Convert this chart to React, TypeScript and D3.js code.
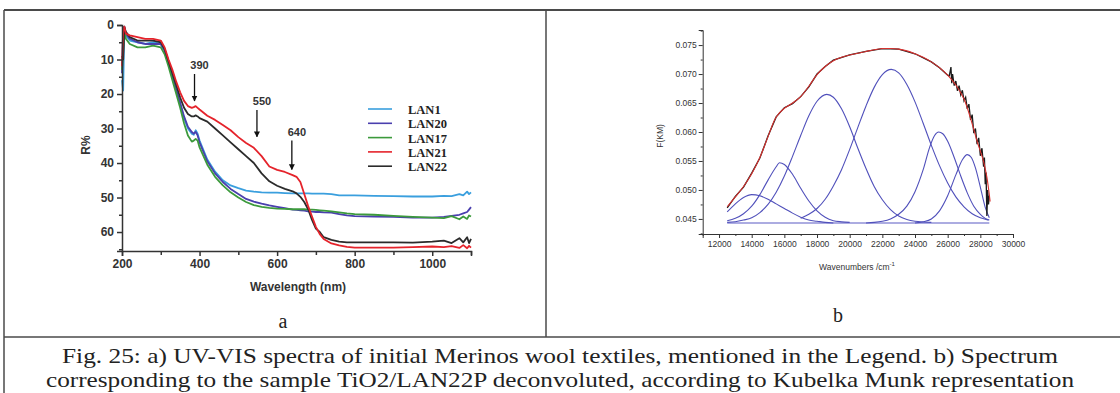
import React, { useEffect, useRef } from "react";
import * as d3 from "d3";

// ---- panel a: UV-VIS reflectance (R%) ----
const wavelength = [200, 203, 206, 210, 220, 240, 260, 280, 300, 310, 320, 330, 340, 350, 360, 370, 380, 385, 390, 395, 400, 420, 440, 460, 480, 500, 520, 540, 560, 580, 600, 620, 640, 650, 660, 670, 680, 690, 700, 710, 720, 740, 760, 780, 800, 850, 900, 950, 1000, 1030, 1050, 1070, 1080, 1090, 1095, 1100];

const lan1 = [16, 19, 1, 3, 4.5, 5, 5.5, 5, 5.5, 7.5, 11, 15, 19, 23, 27, 30, 31.5, 31.8, 30.5, 31.5, 33.5, 39, 42.5, 45, 46.5, 47.3, 48, 48.3, 48.5, 48.6, 48.6, 48.7, 48.8, 48.8, 48.8, 48.8, 48.8, 48.9, 48.9, 48.9, 48.9, 49, 49.4, 49.4, 49.4, 49.5, 49.6, 49.7, 49.7, 49.5, 49.6, 49, 49.4, 48.3, 49, 48.5];
const lan20 = [14, 1, 0.5, 2.5, 4, 5, 5.5, 5.5, 5.5, 7.5, 11, 15, 19, 22.5, 26.5, 29.5, 31, 31.5, 31, 32, 34, 39.5, 43, 45.5, 47.5, 49, 50.4, 51.2, 51.8, 52.3, 52.7, 53.1, 53.5, 53.6, 53.7, 53.8, 54, 54.1, 54.2, 54.2, 54.3, 54.4, 54.8, 55.2, 55.4, 55.5, 55.6, 55.8, 55.8, 55.6, 55.3, 55, 54.6, 54.2, 53.5, 52.8];
const lan17 = [13, 8, 1.5, 4, 5.5, 6.5, 6.5, 6, 6.5, 8.5, 12, 16, 20, 24, 28.5, 32, 33.8, 33.5, 33, 33.5, 35.5, 40.5, 44, 46.5, 48.5, 50, 51.3, 52.2, 52.7, 53, 53.2, 53.3, 53.4, 53.4, 53.4, 53.4, 53.5, 53.5, 53.6, 53.7, 53.8, 54, 54.3, 54.6, 54.8, 55, 55.3, 55.6, 55.8, 56, 55.4, 56.3, 55.5, 56.2, 55.2, 55.5];
const lan21 = [12, 2, 0.5, 2.5, 3, 3.5, 4, 4, 4.5, 6.5, 10, 13, 16.5, 19.5, 22, 23.5, 24, 23.8, 23.5, 24, 24.5, 26.3, 27.5, 29, 30.5, 32.5, 34.2, 35.6, 38, 41, 42, 42.6, 43.5, 44, 45.5, 49, 52.5, 55.5, 58.5, 60.6, 62, 63.3, 63.9, 64.3, 64.5, 64.5, 64.5, 64.4, 64.2, 64.4, 64.1, 64.6, 63.8, 64.7, 64, 64.5];
const lan22 = [9, 10, 0.5, 2, 3.5, 4.5, 4.5, 4.5, 5, 7, 10.5, 14, 17.5, 21, 24, 25.8, 26.5, 26.5, 26.2, 26.5, 27, 28, 30, 32, 34, 36, 38, 40, 43, 45.3, 46.6, 47.5, 48.2, 48.8, 49.8, 51.3, 53.4, 56.5, 59, 60, 61.5, 62.3, 62.8, 63, 63, 63, 63, 63.1, 62.8, 62.5, 63.2, 61.8, 63, 61.5, 63.2, 62];

const seriesNames = ["LAN1", "LAN20", "LAN17", "LAN21", "LAN22"];
const seriesValues = [lan1, lan20, lan17, lan21, lan22];
const seriesColors = ["#3a9fde", "#4a3fae", "#3c9a3c", "#e5232b", "#2b2b2b"];
const drawOrder = [0, 1, 2, 4, 3];

const rTicks = [0, 10, 20, 30, 40, 50, 60];
const wlTicks = [200, 400, 600, 800, 1000];

const arrowLabels = ["390", "550", "640"];
const arrowWl = [387, 548, 638];
const arrowFrom = [14.2, 24.6, 33.5];
const arrowTo = [22, 32.4, 41.9];

// ---- panel b: Kubelka-Munk deconvolution ----
const fitWn = [12500, 13000, 13500, 14000, 14500, 15000, 15500, 16000, 16500, 17000, 17500, 18000, 18500, 19000, 19500, 20000, 20500, 21000, 21500, 22000, 22500, 23000, 23500, 24000, 24500, 25000, 25500, 26000, 26500, 27000, 27500, 27800, 28000, 28200, 28400, 28600];
const fitVal = [0.0471, 0.0488, 0.0506, 0.0528, 0.0556, 0.0592, 0.0626, 0.0641, 0.065, 0.0661, 0.0679, 0.0699, 0.0713, 0.0723, 0.0729, 0.0733, 0.0736, 0.0739, 0.0742, 0.0744, 0.0744, 0.0743, 0.074, 0.0735, 0.0729, 0.0721, 0.0711, 0.0698, 0.0681, 0.0657, 0.0614, 0.0584, 0.0567, 0.0549, 0.0522, 0.048];

const measWn = [12500, 13000, 13500, 14000, 14500, 15000, 15500, 16000, 16500, 17000, 17500, 18000, 18500, 19000, 20000, 21000, 22000, 23000, 24000, 25000, 25500, 26000, 26100, 26200, 26250, 26300, 26400, 26500, 26600, 26700, 26800, 26900, 27000, 27100, 27200, 27300, 27400, 27500, 27600, 27700, 27800, 27900, 28000, 28100, 28200, 28250, 28300, 28350, 28400, 28450, 28500, 28550];
const measVal = [0.0469, 0.0489, 0.0505, 0.0529, 0.0555, 0.0593, 0.0626, 0.0642, 0.0649, 0.0661, 0.0678, 0.07, 0.0713, 0.0724, 0.0733, 0.0739, 0.0744, 0.0743, 0.0735, 0.0721, 0.0711, 0.0698, 0.0697, 0.0712, 0.0684, 0.07, 0.068, 0.0688, 0.0671, 0.068, 0.0664, 0.0672, 0.0654, 0.066, 0.064, 0.0648, 0.0621, 0.063, 0.0598, 0.0606, 0.0579, 0.059, 0.0559, 0.0572, 0.054, 0.0556, 0.051, 0.053, 0.0455, 0.05, 0.0475, 0.049];

const peak1 = [[12500, 0.0462], [13000, 0.0476], [13500, 0.0487], [14000, 0.0492], [14500, 0.049], [15000, 0.0484], [15500, 0.0476], [16000, 0.0468], [16500, 0.046], [17000, 0.0453], [17500, 0.0448], [18000, 0.0446], [18500, 0.0444], [19000, 0.0443]];
const peak2 = [[12500, 0.0447], [13000, 0.0451], [13500, 0.0459], [14000, 0.0472], [14500, 0.0492], [15000, 0.0517], [15500, 0.054], [15700, 0.0547], [16000, 0.0544], [16500, 0.0527], [17000, 0.0503], [17500, 0.0481], [18000, 0.0464], [18500, 0.0453], [19000, 0.0447], [19500, 0.0445], [20000, 0.0444]];
const peak3 = [[12500, 0.0444], [13000, 0.0445], [13500, 0.0448], [14000, 0.0452], [14500, 0.0461], [15000, 0.0475], [15500, 0.0496], [16000, 0.0524], [16500, 0.0558], [17000, 0.0594], [17500, 0.0628], [18000, 0.0653], [18600, 0.0665], [19000, 0.066], [19500, 0.064], [20000, 0.0609], [20500, 0.0572], [21000, 0.0537], [21500, 0.0506], [22000, 0.0483], [22500, 0.0466], [23000, 0.0455], [23500, 0.0449], [24000, 0.0446], [25000, 0.0444]];
const peak4 = [[17000, 0.0451], [17500, 0.0458], [18000, 0.0468], [18500, 0.0484], [19000, 0.0507], [19500, 0.0535], [20000, 0.057], [20500, 0.0608], [21000, 0.0645], [21500, 0.0677], [22000, 0.0699], [22550, 0.0708], [23000, 0.0702], [23500, 0.0682], [24000, 0.0652], [24500, 0.0615], [25000, 0.0577], [25500, 0.0542], [26000, 0.0512], [26500, 0.0488], [27000, 0.0471], [27500, 0.0459], [28000, 0.0452], [28500, 0.0448]];
const peak5 = [[21000, 0.0443], [21500, 0.0444], [22000, 0.0446], [22500, 0.045], [23000, 0.0458], [23500, 0.0472], [24000, 0.0497], [24500, 0.0535], [24900, 0.0574], [25200, 0.0594], [25450, 0.06], [25700, 0.0597], [26000, 0.0584], [26400, 0.0556], [26800, 0.0524], [27200, 0.0495], [27600, 0.0472], [28000, 0.0458], [28300, 0.0451], [28550, 0.0448]];
const peak6 = [[24000, 0.0443], [24500, 0.0445], [25000, 0.045], [25500, 0.0464], [26000, 0.049], [26500, 0.0526], [26900, 0.0552], [27200, 0.0561], [27450, 0.0556], [27700, 0.0538], [28000, 0.0505], [28300, 0.047], [28550, 0.0452]];
const peaks = [peak1, peak2, peak3, peak4, peak5, peak6];
const baseline = [[12500, 0.0443], [28550, 0.0443]];

const fkmTicks = [0.045, 0.05, 0.055, 0.06, 0.065, 0.07, 0.075];
const wnTicks = [12000, 14000, 16000, 18000, 20000, 22000, 24000, 26000, 28000, 30000];

const caption1 = "Fig. 25: a) UV-VIS spectra of initial Merinos wool textiles, mentioned in the Legend. b) Spectrum";
const caption2 = "corresponding to the sample TiO2/LAN22P deconvoluted, according to Kubelka Munk representation";

const W = 1120;
const H = 393;
const SANS = "'Liberation Sans', Arial, sans-serif";
const SERIF = "'Liberation Serif', 'Times New Roman', serif";

export default function App() {
  const ref = useRef<SVGSVGElement>(null);

  useEffect(() => {
    const svg = d3.select(ref.current);
    svg.selectAll("*").remove();

    svg.append("rect").attr("width", W).attr("height", H).attr("fill", "#fff");

    // table frame
    const frame = svg.append("g").attr("stroke", "#4a4a4a").attr("fill", "none");
    frame.append("line").attr("x1", 4).attr("x2", W).attr("y1", 10).attr("y2", 10).attr("stroke-width", 2);
    frame.append("line").attr("x1", 4).attr("x2", 4).attr("y1", 10).attr("y2", H).attr("stroke-width", 1.5);
    frame.append("line").attr("x1", 546).attr("x2", 546).attr("y1", 10).attr("y2", 337).attr("stroke-width", 1.5);
    frame.append("line").attr("x1", 4).attr("x2", W).attr("y1", 337).attr("y2", 337).attr("stroke-width", 1.5);

    // ---------- panel a ----------
    const x = d3.scaleLinear().domain([200, 1100]).range([122, 471]);
    const y = d3.scaleLinear().domain([0, 65.5]).range([25, 251]);
    const ga = svg.append("g").attr("font-family", SANS);

    const line = d3.line<number>()
      .x((_, i) => x(wavelength[i]))
      .y(d => y(d));

    drawOrder.forEach(k => {
      ga.append("path")
        .datum(seriesValues[k])
        .attr("d", line)
        .attr("fill", "none")
        .attr("stroke", seriesColors[k])
        .attr("stroke-width", 1.8)
        .attr("stroke-linejoin", "round");
    });

    const yAxisA = ga.append("g")
      .attr("transform", "translate(122,0)")
      .call(d3.axisLeft(y).tickValues(rTicks).tickSize(5).tickPadding(3).tickFormat(d3.format("d")));
    ga.append("g")
      .attr("transform", "translate(122,0)")
      .call(d3.axisLeft(y).tickValues(d3.range(5, 66, 10)).tickSize(3).tickFormat(() => ""))
      .select(".domain").remove();
    const xAxisA = ga.append("g")
      .attr("transform", "translate(0,251)")
      .call(d3.axisBottom(x).tickValues(wlTicks).tickSize(5).tickPadding(3).tickFormat(d3.format("d")));
    ga.append("g")
      .attr("transform", "translate(0,251)")
      .call(d3.axisBottom(x).tickValues(d3.range(300, 1101, 200)).tickSize(4).tickFormat(() => ""))
      .select(".domain").remove();
    [yAxisA, xAxisA].forEach(a => {
      a.attr("font-family", SANS);
      a.selectAll("text").attr("font-size", 12).attr("font-weight", "bold").attr("fill", "#333");
    });
    ga.selectAll("g path.domain, g line").attr("stroke", "#333").attr("stroke-width", 1.5);

    ga.append("text")
      .attr("x", 298).attr("y", 291)
      .attr("text-anchor", "middle")
      .attr("font-size", 12).attr("font-weight", "bold").attr("fill", "#333")
      .text("Wavelength (nm)");
    ga.append("text")
      .attr("transform", "translate(90,145) rotate(-90)")
      .attr("text-anchor", "middle")
      .attr("font-size", 12).attr("font-weight", "bold").attr("fill", "#333")
      .text("R%");

    // arrows
    const defs = svg.append("defs");
    defs.append("marker")
      .attr("id", "arrowhead")
      .attr("viewBox", "0 0 10 10")
      .attr("refX", 9).attr("refY", 5)
      .attr("markerWidth", 6).attr("markerHeight", 7)
      .attr("markerUnits", "userSpaceOnUse")
      .attr("orient", "auto")
      .append("path").attr("d", "M0,0 L10,5 L0,10 Z").attr("fill", "#111");

    arrowLabels.forEach((lab, i) => {
      const ax = x(arrowWl[i]);
      ga.append("line")
        .attr("x1", ax).attr("x2", ax)
        .attr("y1", y(arrowFrom[i])).attr("y2", y(arrowTo[i]))
        .attr("stroke", "#111").attr("stroke-width", 1.3)
        .attr("marker-end", "url(#arrowhead)");
      ga.append("text")
        .attr("x", ax + 5).attr("y", y(arrowFrom[i]) - 5)
        .attr("text-anchor", "middle")
        .attr("font-size", 11).attr("font-weight", "bold").attr("fill", "#333")
        .text(lab);
    });

    // legend
    const lg = svg.append("g").attr("transform", "translate(368,111)");
    seriesNames.forEach((name, i) => {
      const row = lg.append("g").attr("transform", `translate(0,${i * 14.3})`);
      row.append("line")
        .attr("x1", 0).attr("x2", 24).attr("y1", -2).attr("y2", -2)
        .attr("stroke", seriesColors[i]).attr("stroke-width", 1.6);
      row.append("text")
        .attr("x", 40).attr("y", 3)
        .attr("font-size", 12.5).attr("font-weight", "bold")
        .attr("fill", "#222")
        .attr("font-family", SERIF)
        .text(name);
    });

    // ---------- panel b ----------
    const xb = d3.scaleLinear().domain([11000, 30000]).range([702.7, 1013]);
    const yb = d3.scaleLinear().domain([0.0424, 0.0776]).range([234, 30]);
    const gb = svg.append("g").attr("font-family", SANS);

    const pLine = d3.line<number[]>()
      .x(d => xb(d[0]))
      .y(d => yb(d[1]))
      .curve(d3.curveMonotoneX);

    gb.append("path").datum(baseline).attr("d", pLine)
      .attr("fill", "none").attr("stroke", "#5a5ac4").attr("stroke-width", 1.2);
    peaks.forEach(p => {
      gb.append("path").datum(p).attr("d", pLine)
        .attr("fill", "none").attr("stroke", "#5050bb").attr("stroke-width", 1.1);
    });

    const measLine = d3.line<number>()
      .x((_, i) => xb(measWn[i]))
      .y(d => yb(d));
    gb.append("path").datum(measVal).attr("d", measLine)
      .attr("fill", "none").attr("stroke", "#1a1a1a").attr("stroke-width", 1.3);

    const fitLine = d3.line<number>()
      .x((_, i) => xb(fitWn[i]))
      .y(d => yb(d))
      .curve(d3.curveCatmullRom);
    gb.append("path").datum(fitVal).attr("d", fitLine)
      .attr("fill", "none").attr("stroke", "#d8322f").attr("stroke-width", 1.1);

    const yAxisB = gb.append("g")
      .attr("transform", "translate(702.7,0)")
      .call(d3.axisLeft(yb).tickValues(fkmTicks).tickSize(4).tickPadding(2).tickFormat(d3.format(".3f")));
    gb.append("g")
      .attr("transform", "translate(702.7,0)")
      .call(d3.axisLeft(yb).tickValues(d3.range(0.0425, 0.0776, 0.005)).tickSize(2).tickFormat(() => ""))
      .select(".domain").remove();
    const xAxisB = gb.append("g")
      .attr("transform", "translate(0,234)")
      .call(d3.axisBottom(xb).tickValues(wnTicks).tickSize(4).tickPadding(3).tickFormat(d3.format("d")));
    gb.append("g")
      .attr("transform", "translate(0,234)")
      .call(d3.axisBottom(xb).tickValues(d3.range(11000, 30000, 2000)).tickSize(2).tickFormat(() => ""))
      .select(".domain").remove();
    [yAxisB, xAxisB].forEach(a => {
      a.attr("font-family", SANS);
      a.selectAll("text").attr("font-size", 8.5).attr("fill", "#333");
    });
    gb.selectAll("g path.domain, g line").attr("stroke", "#333").attr("stroke-width", 1);

    const xl = gb.append("text")
      .attr("x", 857).attr("y", 270)
      .attr("text-anchor", "middle")
      .attr("font-size", 8.5).attr("fill", "#333");
    xl.append("tspan").text("Wavenumbers /cm");
    xl.append("tspan").attr("dy", -4).attr("font-size", 6).text("-1");
    gb.append("text")
      .attr("transform", "translate(663,136) rotate(-90)")
      .attr("text-anchor", "middle")
      .attr("font-size", 8.5).attr("fill", "#333")
      .text("F(KM)");

    // ---------- sub labels and caption ----------
    const cap = svg.append("g").attr("font-family", SERIF).attr("fill", "#222");
    cap.append("text").attr("x", 283).attr("y", 328).attr("text-anchor", "middle")
      .attr("font-size", 20).text("a");
    cap.append("text").attr("x", 838).attr("y", 322).attr("text-anchor", "middle")
      .attr("font-size", 20).text("b");

    cap.append("text").attr("x", 62).attr("y", 363)
      .attr("textLength", 996).attr("lengthAdjust", "spacingAndGlyphs")
      .attr("font-size", 22).text(caption1);
    cap.append("text").attr("x", 46).attr("y", 387)
      .attr("textLength", 1028).attr("lengthAdjust", "spacingAndGlyphs")
      .attr("font-size", 21).text(caption2);
  }, []);

  return (
    <div style={{ position: "absolute", left: 0, top: 0 }}>
      <svg ref={ref} width={W} height={H} style={{ display: "block" }} />
    </div>
  );
}
